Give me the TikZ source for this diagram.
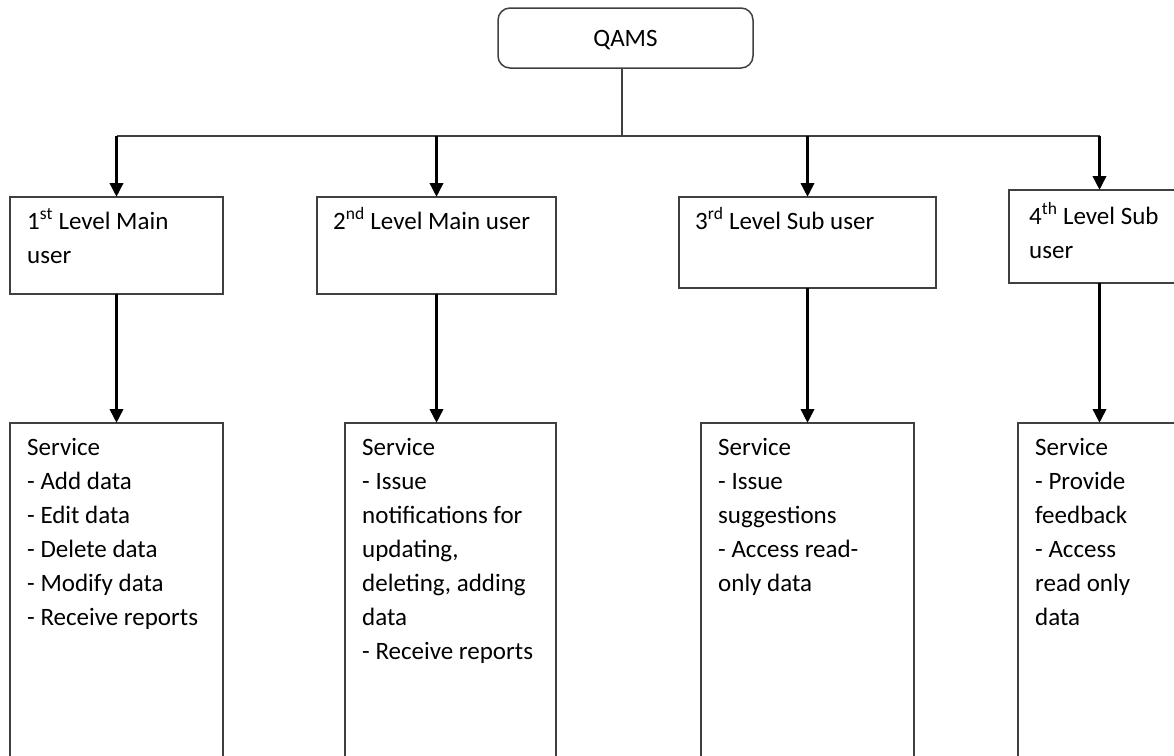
\documentclass[tikz,border=0pt]{standalone}
\usepackage{fontspec}
\setmainfont{Carlito}
\usetikzlibrary{arrows.meta}

\begin{document}
\begin{tikzpicture}[x=1pt, y=-1pt,
  every node/.style={font=\fontsize{25}{34}\selectfont},
  box/.style={draw=black!75, line width=1.5pt, outer sep=0pt, inner sep=0pt},
  txt/.style={anchor=base west, inner sep=0pt, text width=215pt, align=flush left},
  link/.style={draw=black!75, line width=1.5pt},
  arr/.style={line width=3.5pt, -{Triangle[length=14pt, width=13pt]}}]
\useasboundingbox (0,0) rectangle (1174,755);

\node[box, rounded corners=12pt, minimum width=255, minimum height=60, text depth=0pt] (qams) at (625.5,38) {QAMS};
\coordinate (bus) at (622,136);

\node[box, minimum width=213, minimum height=97] (l1) at (116.5,245.5) {};
\node[box, minimum width=239, minimum height=97] (l2) at (436.5,245.5) {};
\node[box, minimum width=257, minimum height=91] (l3) at (807.5,242.5) {};
\node[box, minimum width=181, minimum height=93] (l4) at (1099.5,236.5) {};

\node[box, minimum width=213, minimum height=347] (s1) at (116.5,596.5) {};
\node[box, minimum width=211, minimum height=347] (s2) at (450.5,596.5) {};
\node[box, minimum width=213, minimum height=347] (s3) at (807.5,596.5) {};
\node[box, minimum width=172, minimum height=347] (s4) at (1104,596.5) {};

\node[txt] (t1) at (27,229) {1\textsuperscript{st} Level Main\\user};
\node[txt] (t2) at (333,229) {2\textsuperscript{nd} Level Main user};
\node[txt] (t3) at (695,229) {3\textsuperscript{rd} Level Sub user};
\node[txt] (t4) at (1029,224) {4\textsuperscript{th} Level Sub\\user};

\node[txt] (u1) at (27,455) {Service\\- Add data\\- Edit data\\- Delete data\\- Modify data\\- Receive reports};
\node[txt] (u2) at (362,455) {Service\\- Issue\\notifications for\\updating,\\deleting, adding\\data\\- Receive reports};
\node[txt] (u3) at (718,455) {Service\\- Issue\\suggestions\\- Access read-\\only data};
\node[txt] (u4) at (1035,455) {Service\\- Provide\\feedback\\- Access\\read only\\data};

\draw[link] (bus |- qams.south) -- (bus);
\draw[link] (l1.north |- bus) -- (l4.north |- bus);

\draw[arr] (l1.north |- bus) -- (l1.north);
\draw[arr] (l2.north |- bus) -- (l2.north);
\draw[arr] (l3.north |- bus) -- (l3.north);
\draw[arr] (l4.north |- bus) -- (l4.north);

\draw[arr] (l1.south) -- (l1.south |- s1.north);
\draw[arr] (l2.south) -- (l2.south |- s2.north);
\draw[arr] (l3.south) -- (l3.south |- s3.north);
\draw[arr] (l4.south) -- (l4.south |- s4.north);
\end{tikzpicture}
\end{document}
